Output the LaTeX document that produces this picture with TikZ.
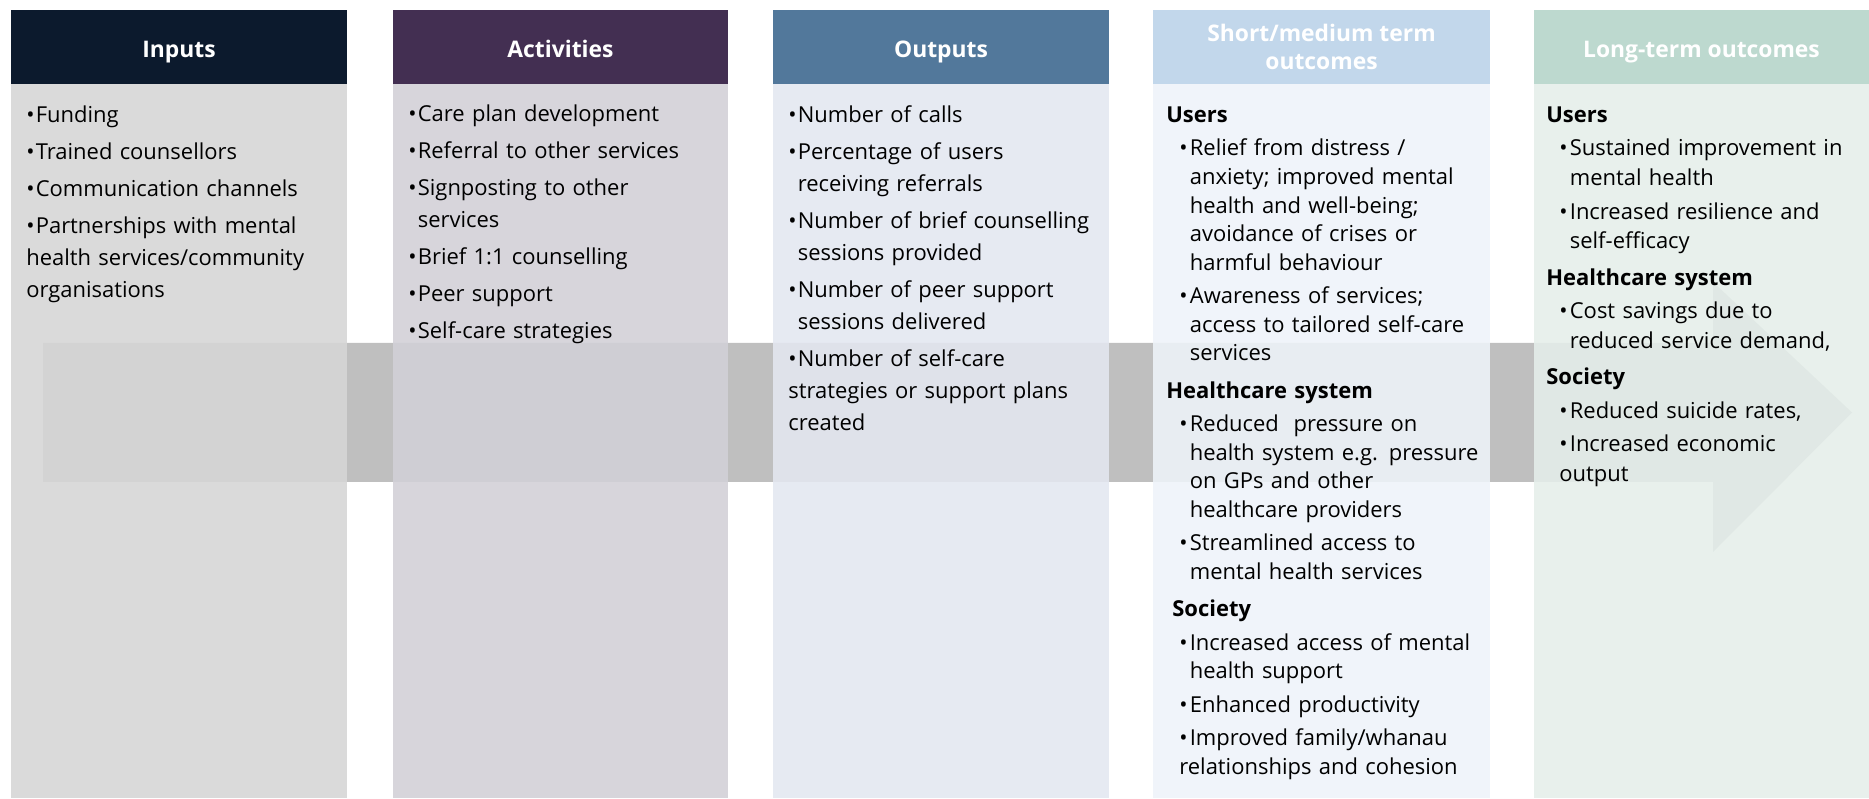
\documentclass[tikz,border=0pt]{standalone}
\usepackage{fontspec}
\setmainfont{Open Sans}

\definecolor{inhd}{HTML}{0C1A2D}
\definecolor{acthd}{HTML}{432F52}
\definecolor{outhd}{HTML}{52789B}
\definecolor{shorthd}{HTML}{C2D7EB}
\definecolor{longhd}{HTML}{BDD9CF}
\definecolor{inbd}{HTML}{D6D6D6}
\definecolor{actbd}{HTML}{D2D0D7}
\definecolor{outbd}{HTML}{E3E7F0}
\definecolor{shortbd}{HTML}{EEF3F9}
\definecolor{longbd}{HTML}{E5EEEA}
\definecolor{band}{HTML}{BFBFBF}

\newcommand{\fbul}{\hangindent=0.19cm\hangafter=1\noindent\makebox[0.19cm][l]{\textbullet}}
\newcommand{\bul}{\par\fbul}
\newcommand{\fobul}{\hangindent=0.21cm\hangafter=1\noindent\makebox[0.21cm][l]{\textbullet}}
\newcommand{\obul}{\par\fobul}
\newcommand{\fgrp}[1]{\noindent\hspace*{-0.26cm}\textbf{#1}}
\newcommand{\grp}[2][0pt]{\par\vspace{#1}\fgrp{#2}}

\begin{document}
\begin{tikzpicture}
[head/.style={rectangle, inner sep=0pt, minimum height=1.48cm, text=white, align=center, font=\fontsize{13pt}{15.9pt}\selectfont\bfseries},
hdin/.style={head, fill=inhd, minimum width=6.72cm, text height=12pt, text depth=0pt},
hdact/.style={head, fill=acthd, minimum width=6.70cm, text height=12pt, text depth=0pt},
hdout/.style={head, fill=outhd, minimum width=6.72cm, text height=12pt, text depth=0pt},
hdshort/.style={head, fill=shorthd, minimum width=6.74cm},
hdlong/.style={head, fill=longhd, minimum width=6.70cm, text height=12pt, text depth=0pt},
body/.style={rectangle, inner sep=0pt, minimum height=14.28cm, fill opacity=0.89},
bdin/.style={body, fill=inbd, minimum width=6.72cm},
bdact/.style={body, fill=actbd, minimum width=6.70cm},
bdout/.style={body, fill=outbd, minimum width=6.72cm},
bdshort/.style={body, fill=shortbd, minimum width=6.74cm},
bdlong/.style={body, fill=longbd, minimum width=6.70cm},
list/.style={anchor=base west, inner sep=0pt, text width=7cm, align=left, font=\fontsize{12.5pt}{18.21pt}\selectfont, execute at begin node={\setlength{\parskip}{0.1cm}}},
slist/.style={list, font=\fontsize{12.5pt}{16.22pt}\selectfont},
llist/.style={list, font=\fontsize{12.5pt}{16.79pt}\selectfont, execute at begin node={\setlength{\parskip}{0.08cm}}}]

\useasboundingbox (0,0) rectangle (37.38,15.96);
\clip (0,0) rectangle (37.38,15.96);

\fill[band] (0.86,9.10) -- (34.26,9.10) -- (34.26,10.32) -- (37.04,7.71) -- (34.26,4.92) -- (34.26,6.32) -- (0.86,6.32) -- cycle;

\node[hdin] (hin) at (3.58,15.02) {Inputs};
\node[bdin] (bin) at (3.58,7.14) {};

\node[hdact] (hact) at (11.21,15.02) {Activities};
\node[bdact] (bact) at (11.21,7.14) {};

\node[hdout] (hout) at (18.82,15.02) {Outputs};
\node[bdout] (bout) at (18.82,7.14) {};

\node[hdshort] (hshort) at (26.43,15.02) {Short/medium term\\outcomes};
\node[bdshort] (bshort) at (26.43,7.14) {};

\node[hdlong] (hlong) at (34.03,15.02) {Long-term outcomes};
\node[bdlong] (blong) at (34.03,7.14) {};

\node[list] (lin) at (0.52,13.51) {\fbul Funding
\bul Trained counsellors
\bul Communication channels
\bul Partnerships with mental\newline health services/community\newline organisations};

\node[list] (lact) at (8.16,13.52) {\fbul Care plan development
\bul Referral to other services
\bul Signposting to other\newline services
\bul Brief 1:1 counselling
\bul Peer support
\bul Self-care strategies};

\node[list] (lout) at (15.76,13.51) {\fbul Number of calls
\bul Percentage of users\newline receiving referrals
\bul Number of brief counselling\newline sessions provided
\bul Number of peer support\newline sessions delivered
\bul Number of self-care\newline strategies or support plans\newline created};

\node[slist] (lshort) at (23.58,13.51) {\fgrp{Users}
\obul Relief from distress /\newline anxiety; improved mental\newline health and well-being;\newline avoidance of crises or\newline harmful behaviour
\obul Awareness of services;\newline access to tailored self-care\newline services
\grp[0.08cm]{Healthcare system}
\obul Reduced~ pressure on\newline health system e.g. pressure\newline on GPs and other\newline healthcare providers
\obul Streamlined access to\newline mental health services
\grp[0.08cm]{\hspace*{0.12cm}Society}
\obul Increased access of mental\newline health support
\obul Enhanced productivity
\obul Improved family/whanau\newline relationships and cohesion};

\node[llist] (llong) at (31.18,13.51) {\fgrp{Users}
\obul Sustained improvement in\newline mental health
\obul Increased resilience and\newline self-efficacy
\grp[0.06cm]{Healthcare system}
\obul Cost savings due to\newline reduced service demand,
\grp[0.06cm]{Society}
\obul Reduced suicide rates,
\obul Increased economic\newline output};
\end{tikzpicture}
\end{document}
